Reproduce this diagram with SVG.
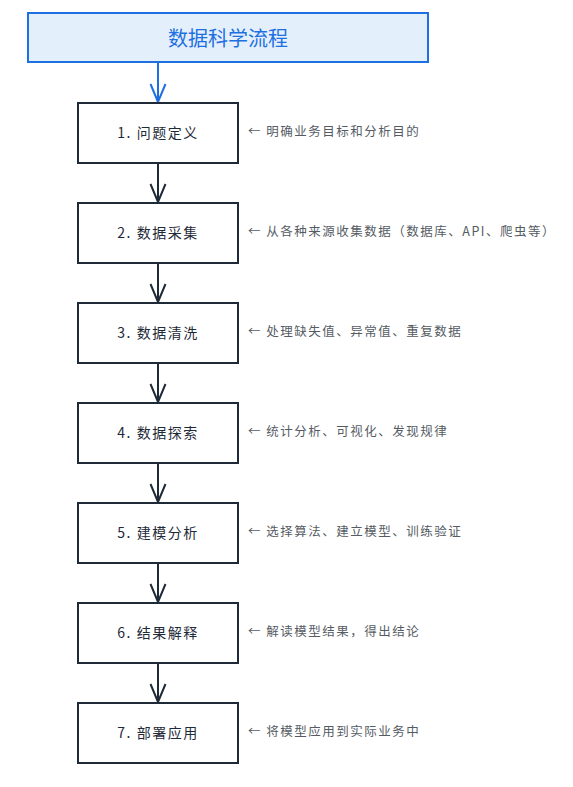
<svg xmlns="http://www.w3.org/2000/svg" width="573" height="787" viewBox="0 0 573 787">
<style>
.box{fill:#ffffff;stroke:#1e2a38;stroke-width:2}
.lbl{font-family:"Noto Sans CJK SC","Liberation Sans",sans-serif;font-size:14px;letter-spacing:1.5px;fill:#1e2a38;text-anchor:middle;dominant-baseline:central}
.note{font-family:"Noto Sans CJK SC","Liberation Sans",sans-serif;font-size:12.5px;letter-spacing:1.5px;fill:#555b63;dominant-baseline:central}
.con{stroke:#1e2a38;stroke-width:2;fill:none}
</style>
<defs>
<marker id="ah" viewBox="0 0 20 18" refX="19" refY="9" markerWidth="20" markerHeight="18" markerUnits="userSpaceOnUse" orient="auto"><path d="M1,1.5 L19,9 L1,16.5" fill="none" stroke="#1e2a38" stroke-width="2"/></marker>
<marker id="ahb" viewBox="0 0 20 18" refX="19" refY="9" markerWidth="20" markerHeight="18" markerUnits="userSpaceOnUse" orient="auto"><path d="M1,1.5 L19,9 L1,16.5" fill="none" stroke="#1e6fe0" stroke-width="2"/></marker>
</defs>
<rect width="573" height="787" fill="#ffffff"/>
<g id="title">
<rect x="28" y="13" width="400" height="49" fill="#e3f0fc" stroke="#1e6fe0" stroke-width="2"/>
<text x="228" y="37.5" font-family="Noto Sans CJK SC,Liberation Sans,sans-serif" font-size="20" fill="#1e6fe0" text-anchor="middle" dominant-baseline="central">数据科学流程</text>
</g>
<g id="connectors">
<line x1="158" y1="62" x2="158" y2="102" stroke="#1e6fe0" stroke-width="2" marker-end="url(#ahb)"/>
<line class="con" x1="158" y1="163" x2="158" y2="202" marker-end="url(#ah)"/>
<line class="con" x1="158" y1="263" x2="158" y2="302" marker-end="url(#ah)"/>
<line class="con" x1="158" y1="363" x2="158" y2="402" marker-end="url(#ah)"/>
<line class="con" x1="158" y1="463" x2="158" y2="502" marker-end="url(#ah)"/>
<line class="con" x1="158" y1="563" x2="158" y2="602" marker-end="url(#ah)"/>
<line class="con" x1="158" y1="663" x2="158" y2="702" marker-end="url(#ah)"/>
</g>
<g id="step1"><rect class="box" x="78" y="103" width="160" height="60"/><text class="lbl" x="158" y="131.5">1. 问题定义</text><text class="note" x="248" y="130.5">← 明确业务目标和分析目的</text></g>
<g id="step2"><rect class="box" x="78" y="203" width="160" height="60"/><text class="lbl" x="158" y="231.5">2. 数据采集</text><text class="note" x="248" y="230.5">← 从各种来源收集数据（数据库、API、爬虫等）</text></g>
<g id="step3"><rect class="box" x="78" y="303" width="160" height="60"/><text class="lbl" x="158" y="331.5">3. 数据清洗</text><text class="note" x="248" y="330.5">← 处理缺失值、异常值、重复数据</text></g>
<g id="step4"><rect class="box" x="78" y="403" width="160" height="60"/><text class="lbl" x="158" y="431.5">4. 数据探索</text><text class="note" x="248" y="430.5">← 统计分析、可视化、发现规律</text></g>
<g id="step5"><rect class="box" x="78" y="503" width="160" height="60"/><text class="lbl" x="158" y="531.5">5. 建模分析</text><text class="note" x="248" y="530.5">← 选择算法、建立模型、训练验证</text></g>
<g id="step6"><rect class="box" x="78" y="603" width="160" height="60"/><text class="lbl" x="158" y="631.5">6. 结果解释</text><text class="note" x="248" y="630.5">← 解读模型结果，得出结论</text></g>
<g id="step7"><rect class="box" x="78" y="703" width="160" height="60"/><text class="lbl" x="158" y="731.5">7. 部署应用</text><text class="note" x="248" y="730.5">← 将模型应用到实际业务中</text></g>
</svg>
